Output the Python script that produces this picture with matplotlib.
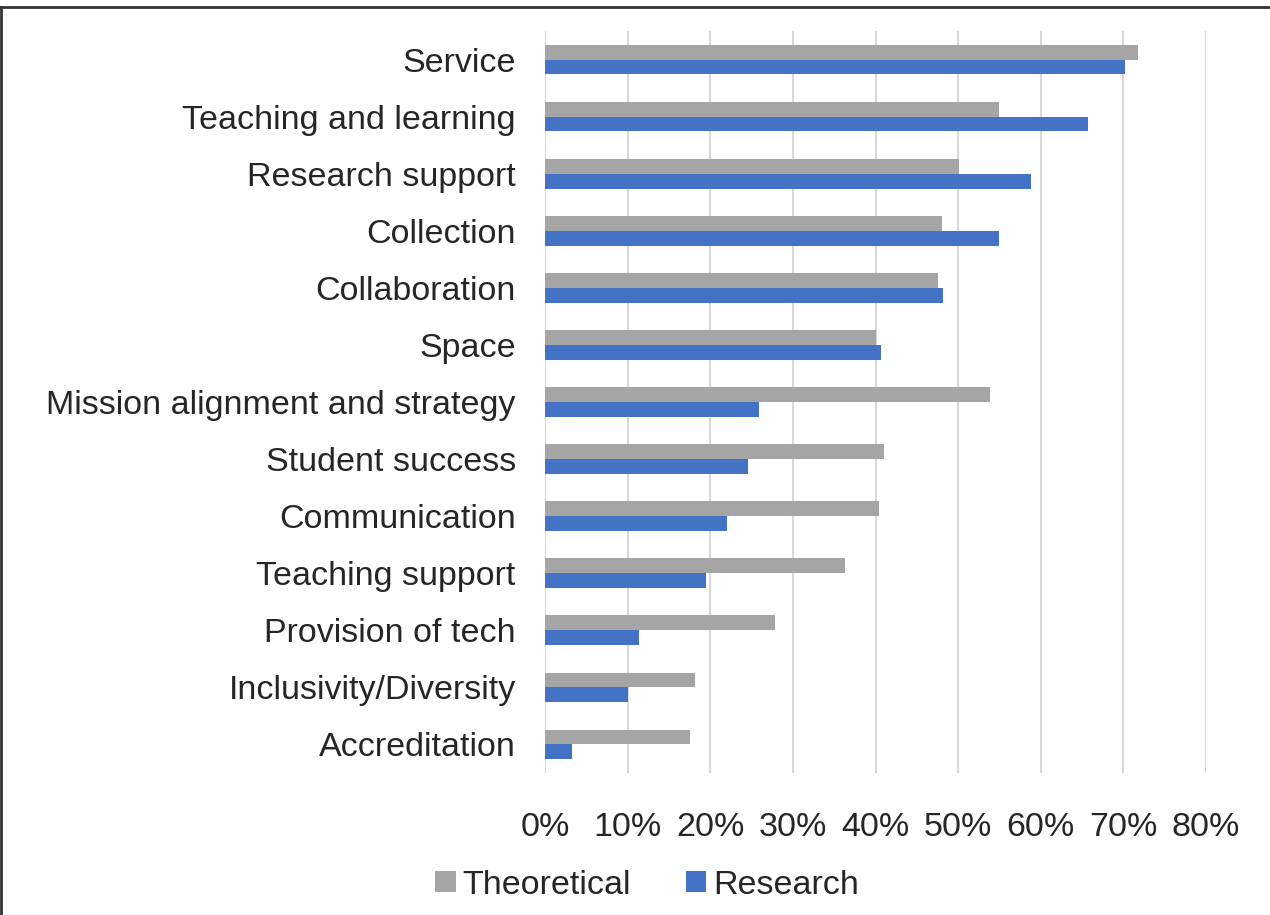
import matplotlib.pyplot as plt
import numpy as np
from matplotlib.ticker import PercentFormatter

plt.rcParams['font.family'] = ['Liberation Sans', 'DejaVu Sans']

categories = ["Service", "Teaching and learning", "Research support", "Collection",
              "Collaboration", "Space", "Mission alignment and strategy",
              "Student success", "Communication", "Teaching support",
              "Provision of tech", "Inclusivity/Diversity", "Accreditation"]
theoretical = [0.718, 0.550, 0.501, 0.481, 0.476, 0.400, 0.538, 0.410, 0.404, 0.363, 0.278, 0.182, 0.176]
research = [0.702, 0.657, 0.588, 0.550, 0.482, 0.407, 0.259, 0.246, 0.220, 0.195, 0.114, 0.100, 0.033]

fig = plt.figure(figsize=(12.7, 9.15), dpi=100)
ax = fig.add_axes([545/1270, 1-773/915, (1206-545)/1270, (773-31)/915])

y = np.arange(len(categories))
h = 0.26
ax.barh(y - h/2, theoretical, height=h, color='#a5a5a5', label='Theoretical')
ax.barh(y + h/2, research, height=h, color='#4472c4', label='Research')

ax.set_ylim(len(categories) - 0.5, -0.5)
ax.set_xlim(0, 0.8)
ax.set_xticks(np.arange(0, 0.81, 0.1))
ax.xaxis.set_major_formatter(PercentFormatter(1.0, decimals=0))
ax.set_yticks(y)
ax.set_yticklabels(categories)
ax.tick_params(axis='y', length=0, pad=21, labelsize=24.5, colors='#262626')
ax.tick_params(axis='x', length=0, pad=28, labelsize=24.5, colors='#262626')
ax.grid(axis='x', color='#d9d9d9', linewidth=1.5)
ax.set_axisbelow(True)
for s in ax.spines.values():
    s.set_visible(False)

ax.legend(loc='center', bbox_to_anchor=(647/1270, 1-885/915), bbox_transform=fig.transFigure,
          ncol=2, frameon=False, fontsize=24.5, handlelength=0.6, handleheight=0.6,
          handletextpad=0.2, columnspacing=1.6, labelcolor='#262626')

# outer frame (top and left edges visible)
fig.add_artist(plt.Line2D([0, 1], [1-7/915, 1-7/915], transform=fig.transFigure, color='#333333', lw=2))
fig.add_artist(plt.Line2D([1/1270, 1/1270], [0, 1-7/915], transform=fig.transFigure, color='#333333', lw=2))

fig.savefig('out.png', dpi=100)
